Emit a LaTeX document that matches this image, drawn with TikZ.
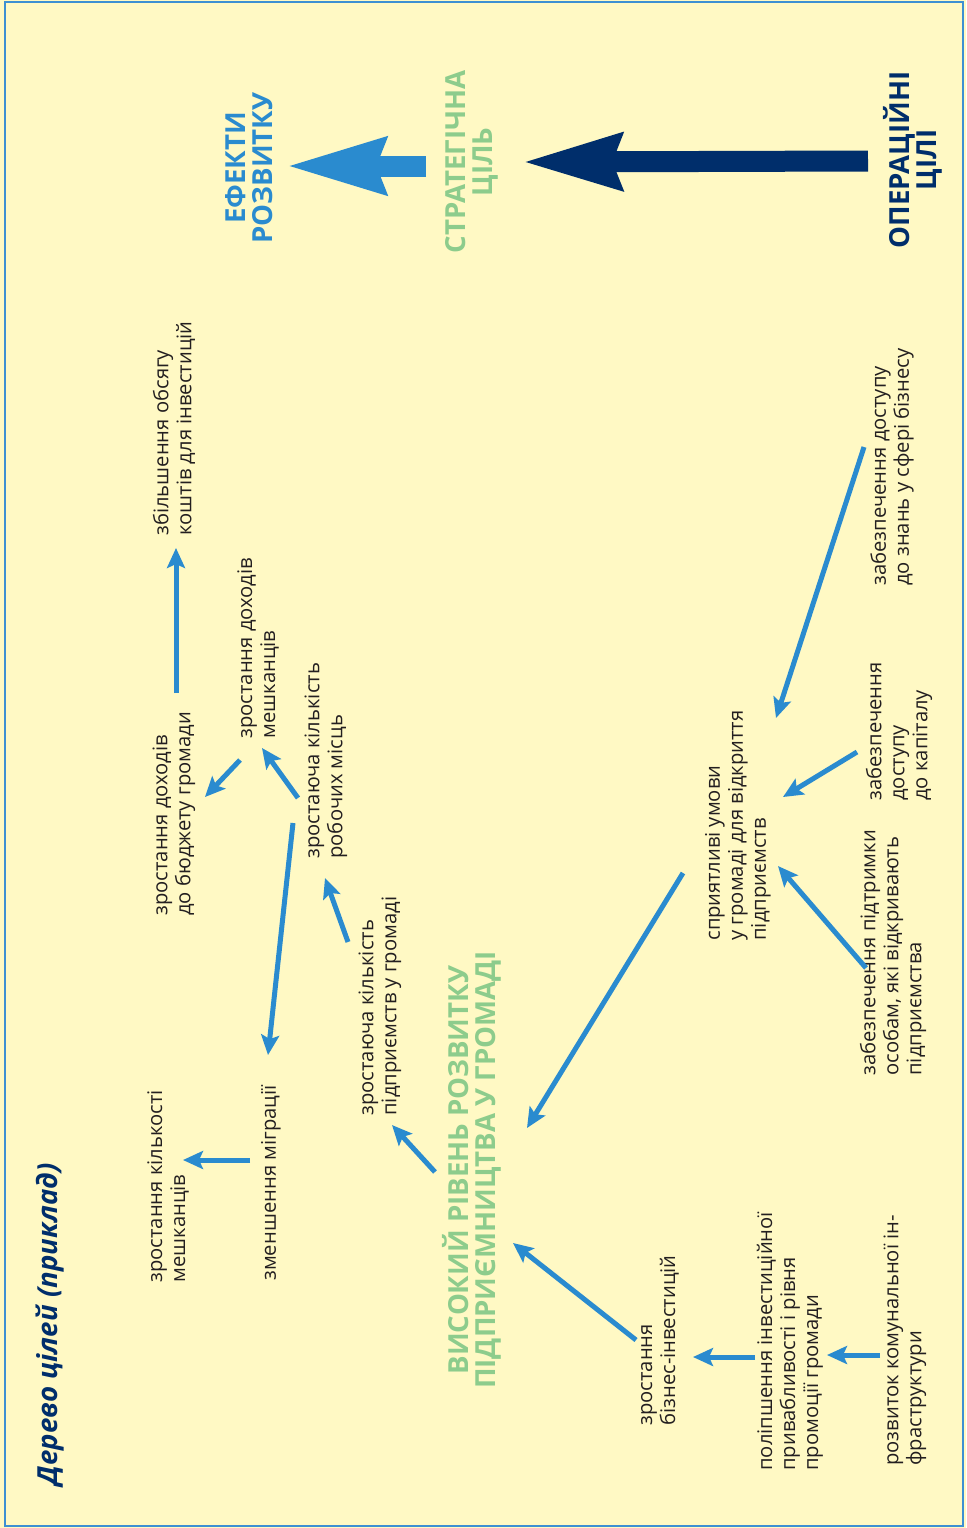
\documentclass[tikz,border=0pt]{standalone}
\usepackage{fontspec}
\setmainfont{Open Sans}
\usetikzlibrary{arrows.meta}
\definecolor{paper}{HTML}{FFF9C4}
\definecolor{frame}{HTML}{3E90D2}
\definecolor{arrowblue}{HTML}{2A8BCF}
\definecolor{leafgreen}{HTML}{8DCC8C}
\definecolor{navy}{HTML}{002E6B}
\definecolor{ink}{HTML}{231F20}
\begin{document}
\begin{tikzpicture}[x=0.5pt,y=-0.5pt,
	goal/.style={rotate=90,anchor=west,inner sep=0pt,align=left,text=ink,font=\fontsize{10.1}{11.5}\selectfont},
	head/.style={rotate=90,inner sep=0pt,align=center,font=\bfseries\fontsize{13.8}{13.8}\selectfont},
	link/.style={arrowblue,line width=2.5pt,-{Stealth[length=10pt,width=9pt,inset=2pt]}},
	fat/.style={line width=10.5pt,-{Stealth[length=49pt,width=27pt,inset=4pt]}}]
	\useasboundingbox (0,0) rectangle (966,1528);
	\fill[paper] (0,0) rectangle (966,1528);
	\draw[frame,line width=1pt] (5,2) rectangle (963,1526);
	% headings
	\node[head,text=arrowblue] (effects) at (249,168) {ЕФЕКТИ\\РОЗВИТКУ};
	\node[head,text=leafgreen] (strategy) at (472,162) {СТРАТЕГІЧНА\\ЦІЛЬ};
	\node[head,text=navy] (operative) at (913,160) {ОПЕРАЦІЙНІ\\ЦІЛІ};
	\node[head,text=leafgreen] (level) at (472,1170) {ВИСОКИЙ РІВЕНЬ РОЗВИТКУ\\ПІДПРИЄМНИЦТВА У ГРОМАДІ};
	\node[rotate=90,anchor=west,inner sep=0pt,text=navy,font=\bfseries\itshape\fontsize{13.8}{16}\selectfont] (title) at (50,1486) {Дерево цілей (приклад)};
	\draw[fat,arrowblue] ([shift={(-46,4)}]strategy.center) -- ([shift={(37,-2)}]effects.center);
	\draw[fat,navy] ([shift={(-45,1)}]operative.center) -- ([shift={(50,0)}]strategy.center);
	% goals
	\node[goal] (invest) at (174,536) {збільшення обсягу\\коштів для інвестицій};
	\node[goal] (budget) at (174,916) {зростання доходів\\до бюджету громади};
	\node[goal] (income) at (258,739) {зростання доходів\\мешканців};
	\node[goal] (jobs) at (326,859) {зростаюча кількість\\робочих місць};
	\node[goal] (firms) at (380,1116) {зростаюча кількість\\підприємств у громаді};
	\node[goal] (people) at (168,1283) {зростання кількості\\мешканців};
	\node[goal] (migration) at (271,1281) {зменшення міграції};
	\node[goal] (climate) at (738,941) {сприятливі умови\\у громаді для відкриття\\підприємств};
	\node[goal] (knowledge) at (892,586) {забезпечення доступу\\до знань у сфері бізнесу};
	\node[goal] (capital) at (899,801) {забезпечення\\доступу\\до капіталу};
	\node[goal] (support) at (893,1076) {забезпечення підтримки\\особам, які відкривають\\підприємства};
	\node[goal] (bizinv) at (660,1426) {зростання\\бізнес-інвестицій};
	\node[goal] (promo) at (790,1471) {поліпшення інвестиційної\\привабливості і рівня\\промоції громади};
	\node[goal] (infra) at (905,1466) {розвиток комунальної ін-\\фраструктури};
	% links
	\draw[link] ([shift={(2,-223)}]budget.west) -- ([shift={(2,12)}]invest.west);
	\draw[link] ([shift={(-18,21)}]income.west) -- ([shift={(31,-119)}]budget.west);
	\draw[link] ([shift={(-28,-61)}]jobs.west) -- ([shift={(4,9)}]income.west);
	\draw[link] ([shift={(-33,-36)}]jobs.west) -- ([shift={(-3,-226)}]migration.west);
	\draw[link] ([shift={(-32,-174)}]firms.west) -- ([shift={(-1,19)}]jobs.west);
	\draw[link] ([shift={(-21,-121)}]migration.west) -- ([shift={(15,-123)}]people.west);
	\draw[link] ([shift={(-37,2)}]level.center) -- ([shift={(12,9)}]firms.west);
	\draw[link] ([shift={(-55,-68)}]climate.west) -- ([shift={(55,-42)}]level.center);
	\draw[link] ([shift={(-28,-139)}]knowledge.west) -- ([shift={(38,-223)}]climate.west);
	\draw[link] ([shift={(-42,-49)}]capital.west) -- ([shift={(45,-144)}]climate.west);
	\draw[link] ([shift={(-27,-108)}]support.west) -- ([shift={(40,-75)}]climate.west);
	\draw[link] ([shift={(-24,-86)}]bizinv.west) -- ([shift={(41,73)}]level.center);
	\draw[link] ([shift={(-35,-114)}]promo.west) -- ([shift={(33,-69)}]bizinv.west);
	\draw[link] ([shift={(-25,-111)}]infra.west) -- ([shift={(37,-116)}]promo.west);
\end{tikzpicture}
\end{document}
